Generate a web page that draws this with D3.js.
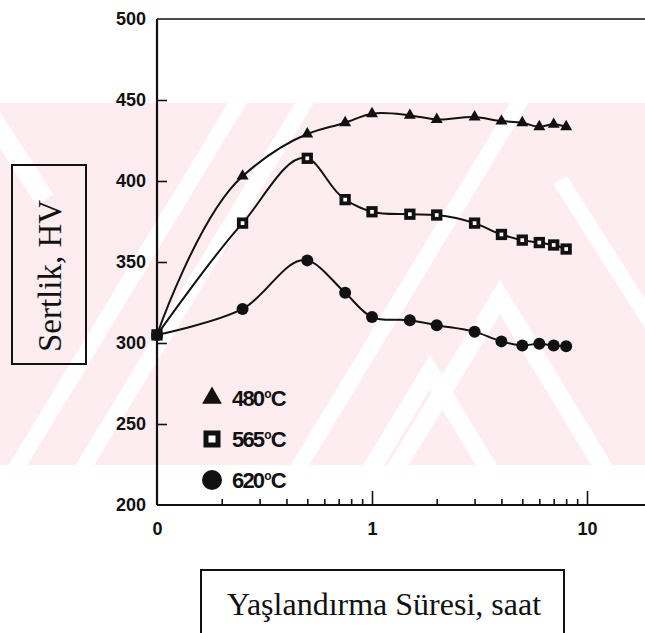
<!DOCTYPE html>
<html>
<head>
<meta charset="utf-8">
<script src="https://cdn.jsdelivr.net/npm/d3@7"></script>
<style>
  html, body { margin: 0; padding: 0; background: #fff; }
  svg { display: block; }
  .tick text { font-family: 'Liberation Sans', Arial, sans-serif; font-weight: bold; font-size: 18px; fill: #111; }
</style>
</head>
<body>
<div id="chart"></div>
<script>
// aging time (h) and hardness (HV)
const times = [0.1, 0.25, 0.5, 0.75, 1, 1.5, 2, 3, 4, 5, 6, 7, 8];
const hv480 = [305, 403, 429, 436, 441.5, 440.5, 438, 439.5, 437, 436, 433.5, 435, 433.5];
const hv565 = [305, 374, 414, 388.5, 381, 379.5, 379, 374, 367, 363.5, 362, 360.5, 358];
const hv620 = [305, 321, 351, 331, 316, 314, 311, 307, 301, 298.5, 299.5, 298.5, 298];
const seriesNames = ['480', '565', '620'];
const yTicks = [200, 250, 300, 350, 400, 450, 500];
const xMajor = [0.1, 1, 10];
const xMajorLabels = ['0', '1', '10'];
const xMinor = [0.2, 0.3, 0.4, 0.5, 0.6, 0.7, 0.8, 0.9, 2, 3, 4, 5, 6, 7, 8, 9];

const width = 645;
const height = 633;

const svg = d3.select('#chart').append('svg')
  .attr('width', width)
  .attr('height', height);

// faint watermark band behind the plot
const wm = svg.append('g').attr('id', 'watermark');
wm.append('clipPath').attr('id', 'wmClip')
  .append('rect').attr('x', 0).attr('y', 103).attr('width', width).attr('height', 362);
wm.append('rect')
  .attr('x', 0).attr('y', 103).attr('width', width).attr('height', 362)
  .attr('fill', '#fdedf0');
const wmG = wm.append('g').attr('clip-path', 'url(#wmClip)')
  .attr('stroke', '#fff').attr('fill', 'none').attr('stroke-linecap', 'butt');
const slope = 1.65;
[18, 85, 300].forEach((c) => {
  wmG.append('line')
    .attr('x1', c - 40).attr('y1', 465 + 40 * slope)
    .attr('x2', c + 300).attr('y2', 465 - 300 * slope)
    .attr('stroke-width', 16);
});
[[500, 297], [430, 372]].forEach(([ax, ay]) => {
  const d = 200;
  wmG.append('path')
    .attr('d', `M${ax - d},${ay + d * slope}L${ax},${ay}L${ax + d},${ay + d * slope}`)
    .attr('stroke-width', 18);
});
wmG.append('line').attr('x1', -10).attr('y1', 115).attr('x2', 45).attr('y2', 200).attr('stroke-width', 20);
wmG.append('line').attr('x1', 560).attr('y1', 180).attr('x2', 700).attr('y2', 400).attr('stroke-width', 16);

const x = d3.scaleLog().domain([0.1, 10]).range([157, 587]);
const y = d3.scaleLinear().domain([200, 500]).range([505, 19]);

// frame: left axis, top line, bottom axis
const frame = svg.append('g').attr('stroke', '#111');
frame.append('line').attr('x1', x(0.1)).attr('x2', x(0.1)).attr('y1', y(500)).attr('y2', y(200)).attr('stroke-width', 2.2);
frame.append('line').attr('x1', x(0.1)).attr('x2', width).attr('y1', y(500)).attr('y2', y(500)).attr('stroke-width', 1.6);
frame.append('line').attr('x1', x(0.1)).attr('x2', width).attr('y1', y(200)).attr('y2', y(200)).attr('stroke-width', 2.2);

const yAxis = svg.append('g')
  .attr('transform', `translate(${x(0.1)},0)`)
  .call(d3.axisLeft(y).tickValues(yTicks).tickSizeInner(-10).tickSizeOuter(0).tickPadding(11));
yAxis.select('.domain').remove();
yAxis.selectAll('.tick line').attr('stroke', '#111').attr('stroke-width', 1.6)
  .filter(d => d === 200 || d === 500).remove();

const xAxisMinor = svg.append('g')
  .attr('transform', `translate(0,${y(200)})`)
  .call(d3.axisBottom(x).tickValues(xMinor).tickSizeInner(-6).tickSizeOuter(0).tickFormat(''));
xAxisMinor.select('.domain').remove();
xAxisMinor.selectAll('.tick line').attr('stroke', '#111').attr('stroke-width', 1.6);

const xAxisMajor = svg.append('g')
  .attr('transform', `translate(0,${y(200)})`)
  .call(d3.axisBottom(x).tickValues(xMajor).tickSizeInner(-14).tickSizeOuter(0).tickPadding(17)
    .tickFormat((d, i) => xMajorLabels[i]));
xAxisMajor.select('.domain').remove();
xAxisMajor.selectAll('.tick line').attr('stroke', '#111').attr('stroke-width', 1.6)
  .filter(d => d === 0.1).remove();

// series
const series = [
  { name: seriesNames[0], values: hv480, shape: 'triangle' },
  { name: seriesNames[1], values: hv565, shape: 'square' },
  { name: seriesNames[2], values: hv620, shape: 'circle' },
];

const line = d3.line()
  .x(d => x(d[0]))
  .y(d => y(d[1]))
  .curve(d3.curveCatmullRom.alpha(1));

const drawMarker = (g, shape, big) => {
  if (shape === 'triangle') {
    g.append('path')
      .attr('d', d3.symbol(d3.symbolTriangle, big ? 170 : 62)())
      .attr('fill', '#111');
  } else if (shape === 'square') {
    const s = big ? 12 : 7.5;
    g.append('rect')
      .attr('x', -s / 2).attr('y', -s / 2).attr('width', s).attr('height', s)
      .attr('fill', '#fff').attr('stroke', '#111').attr('stroke-width', big ? 5 : 3.8);
  } else {
    g.append('circle').attr('r', big ? 10 : 6).attr('fill', '#111');
  }
};

series.forEach((s) => {
  const pts = times.map((t, i) => [t, s.values[i]]);
  svg.append('path')
    .datum(pts)
    .attr('d', line)
    .attr('fill', 'none')
    .attr('stroke', '#111')
    .attr('stroke-width', 2);
  svg.append('g').selectAll('g')
    .data(pts)
    .enter().append('g')
    .attr('transform', d => `translate(${x(d[0])},${y(d[1])})`)
    .each(function addMarker() { drawMarker(d3.select(this), s.shape, false); });
});

// legend
const legend = svg.append('g').attr('transform', 'translate(212,398)');
series.forEach((s, i) => {
  const row = legend.append('g').attr('transform', `translate(0,${i * 41})`);
  drawMarker(row, s.shape, true);
  const t = row.append('text')
    .attr('x', 20).attr('y', 8)
    .style('font-family', "'Liberation Sans', Arial, sans-serif")
    .style('font-size', '22px')
    .style('font-weight', 'bold')
    .style('letter-spacing', '-1.8px')
    .attr('fill', '#111');
  t.append('tspan').text(s.name);
  t.append('tspan').attr('dy', -8).attr('dx', 1).style('font-size', '12px').text('o');
  t.append('tspan').attr('dy', 8).attr('dx', 1).text('C');
});

// axis title boxes
svg.append('rect')
  .attr('x', 12).attr('y', 165).attr('width', 74).attr('height', 199)
  .attr('fill', 'none').attr('stroke', '#111').attr('stroke-width', 2);
svg.append('text')
  .attr('transform', 'translate(61,276) rotate(-90)')
  .attr('text-anchor', 'middle')
  .style('font-family', "'Liberation Serif', 'Times New Roman', serif")
  .style('font-size', '33px')
  .attr('fill', '#111')
  .text('Sertlik, HV');

svg.append('rect')
  .attr('x', 201).attr('y', 570).attr('width', 363).attr('height', 80)
  .attr('fill', 'none').attr('stroke', '#111').attr('stroke-width', 2);
svg.append('text')
  .attr('x', 384).attr('y', 615)
  .attr('text-anchor', 'middle')
  .style('font-family', "'Liberation Serif', 'Times New Roman', serif")
  .style('font-size', '32px')
  .attr('fill', '#111')
  .text('Yaşlandırma Süresi, saat');
</script>
</body>
</html>
